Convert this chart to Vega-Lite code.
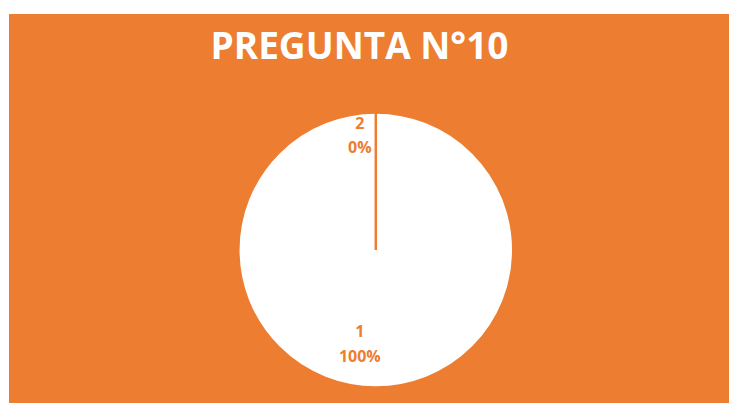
{
  "$schema": "https://vega.github.io/schema/vega-lite/v6.json",
  "autosize": {"type": "none"},
  "width": 720,
  "height": 389,
  "padding": {"left": 9, "top": 14, "right": 0, "bottom": 0},
  "background": "white",
  "view": {"fill": "#ED7D31", "stroke": null},
  "config": {"view": {"fill": "#ED7D31", "stroke": null}},
  "title": {
    "text": "PREGUNTA N°10",
    "color": "white",
    "font": "Open Sans",
    "fontSize": 37,
    "fontWeight": "bold",
    "anchor": "middle",
    "frame": "group",
    "baseline": "alphabetic",
    "offset": -48,
    "dy": 34,
    "dx": -9.5
  },
  "data": {"values": [{"cat": "1", "pct": 100}, {"cat": "2", "pct": 0}]},
  "transform": [{"calculate": "[datum.cat, datum.pct + '%']", "as": "label"}],
  "encoding": {
    "theta": {"field": "pct", "type": "quantitative", "stack": true},
    "order": {"field": "cat", "sort": "ascending"}
  },
  "layer": [
    {
      "mark": {"type": "arc", "outerRadius": 137.5, "fill": "white", "stroke": "#ED7D31", "strokeWidth": 2.5, "xOffset": 6.8, "yOffset": 41.5}
    },
    {
      "transform": [{"filter": "datum.cat == '1'"}],
      "mark": {"type": "text", "radius": 81.5, "font": "Open Sans", "fontSize": 16, "fontWeight": "bold", "color": "#ED7D31", "baseline": "middle", "align": "center", "lineHeight": 25, "xOffset": -9.2, "yOffset": 41.5},
      "encoding": {"text": {"field": "label"}}
    },
    {
      "transform": [{"filter": "datum.cat == '2'"}],
      "mark": {"type": "text", "radius": 126, "font": "Open Sans", "fontSize": 16, "fontWeight": "bold", "color": "#ED7D31", "baseline": "middle", "align": "center", "lineHeight": 23.5, "xOffset": -9.2, "yOffset": 41.5},
      "encoding": {"text": {"field": "label"}}
    }
  ]
}
